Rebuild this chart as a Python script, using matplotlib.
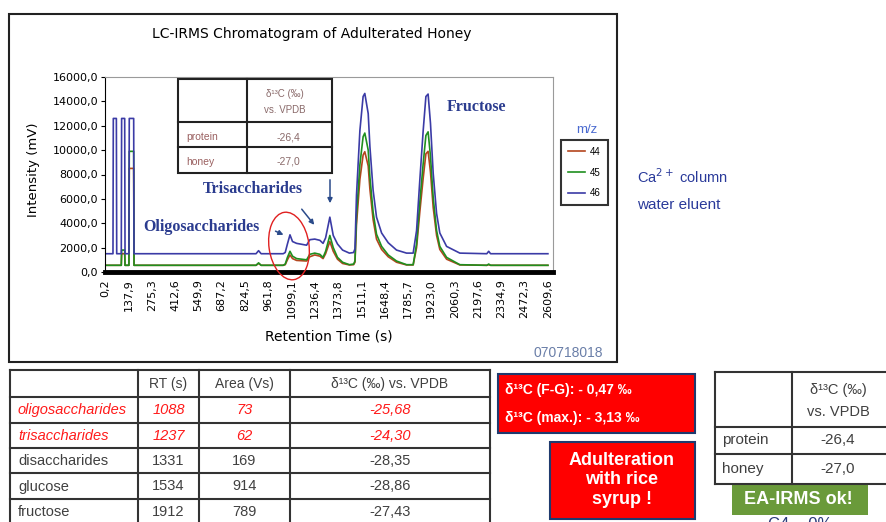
import matplotlib.pyplot as plt
from matplotlib.patches import Rectangle, Ellipse

plt.rcParams['font.family'] = ['Liberation Sans', 'DejaVu Sans']

W, H = 887, 522

# retention time (s) and signal (mV) of the three m/z traces
rt = [0, 47, 49, 67, 69, 96, 98, 116, 118, 141, 143, 169, 171,
      890, 905, 920, 1050, 1062, 1075, 1090, 1105, 1129, 1188, 1207, 1236, 1266,
      1285, 1300, 1325, 1345, 1370, 1400, 1440, 1465, 1473, 1482,
      1502, 1521, 1531, 1551, 1561, 1580, 1600, 1630, 1669, 1718,
      1777, 1816, 1836, 1855, 1875, 1891, 1904, 1918, 1934, 1954,
      1973, 2013, 2091, 2250, 2261, 2272, 2610]
mz44 = [550, 550, 550, 550, 550, 550, 1500, 1500, 550, 550, 8500, 8500, 550,
        550, 700, 550, 550, 600, 1000, 1400, 1100, 950, 900, 1250, 1400, 1300,
        1100, 1500, 2500, 1700, 1050, 700, 580, 600, 800, 3900,
        7600, 9600, 9870, 8700, 6800, 4300, 2700, 1850, 1250, 800,
        580, 580, 2000, 4900, 7700, 9700, 9900, 8200, 5300, 3000,
        1850, 1050, 580, 550, 600, 550, 550]
mz45 = [550, 550, 550, 550, 550, 550, 1800, 1800, 550, 550, 9900, 9900, 550,
        550, 750, 550, 550, 650, 1200, 1700, 1300, 1100, 1000, 1450, 1550, 1450,
        1200, 1700, 3000, 2000, 1200, 800, 600, 650, 900, 4600,
        8800, 11100, 11400, 10000, 7800, 4900, 3100, 2100, 1400, 900,
        600, 600, 2300, 5700, 8900, 11200, 11500, 9500, 6100, 3400,
        2100, 1200, 600, 550, 650, 550, 550]
mz46 = [1500, 1500, 12600, 12600, 1500, 1500, 12600, 12600, 1500, 1500, 12600, 12600, 1500,
        1500, 1750, 1500, 1500, 1600, 2300, 3050, 2500, 2350, 2200, 2650, 2700, 2600,
        2350, 2800, 4500, 3000, 2300, 1800, 1550, 1600, 1900, 6300,
        11600, 14400, 14650, 13000, 10300, 6700, 4500, 3200, 2400, 1800,
        1550, 1550, 3400, 7500, 11600, 14400, 14600, 12200, 8100, 4800,
        3200, 2100, 1550, 1500, 1700, 1500, 1500]

xtick_vals = [0.2, 137.9, 275.3, 412.6, 549.9, 687.2, 824.5, 961.8, 1099.1, 1236.4,
              1373.8, 1511.1, 1648.4, 1785.7, 1923.0, 2060.3, 2197.6, 2334.9, 2472.3, 2609.6]
ytick_vals = [0, 2000, 4000, 6000, 8000, 10000, 12000, 14000, 16000]

# results table
comp = ['oligosaccharides', 'trisaccharides', 'disaccharides', 'glucose', 'fructose']
comp_rt = ['1088', '1237', '1331', '1534', '1912']
comp_area = ['73', '62', '169', '914', '789']
comp_d13c = ['-25,68', '-24,30', '-28,35', '-28,86', '-27,43']

# EA-IRMS values
ea_rows = ['protein', 'honey']
ea_vals = ['-26,4', '-27,0']


def fx(px):
    return px / W


def fy(py):
    return 1 - py / H


fig = plt.figure(figsize=(W / 100, H / 100), dpi=100)

# %% chromatogram
ax = fig.add_axes([fx(105), fy(272), 448 / W, 195 / H])
ax.plot(rt, mz44, color='#b4461e', lw=1.2, label='44')
ax.plot(rt, mz45, color='#1f8f1f', lw=1.2, label='45')
ax.plot(rt, mz46, color='#3b3ba6', lw=1.2, label='46')
ax.set_xlim(0, 2640)
ax.set_ylim(0, 16000)
ax.set_xticks(xtick_vals, [f'{v:.1f}'.replace('.', ',') for v in xtick_vals],
              rotation=90, fontsize=8, family='DejaVu Sans')
ax.set_yticks(ytick_vals, [f'{v:.1f}'.replace('.', ',') for v in ytick_vals],
              fontsize=8, family='DejaVu Sans')
ax.tick_params(axis='x', length=0, pad=5)
ax.tick_params(axis='y', length=3, width=0.8, pad=2)
for s in ['top', 'right']:
    ax.spines[s].set_color('#9a9a9a')
    ax.spines[s].set_linewidth(0.8)
ax.spines['left'].set_linewidth(0.8)
ax.spines['bottom'].set_linewidth(3.5)

leg = fig.legend(loc='upper left', bbox_to_anchor=(fx(561), fy(140)), fontsize=7,
                 frameon=True, fancybox=False, edgecolor='black', handlelength=1.8,
                 handletextpad=0.5, labelspacing=1.1, borderpad=0.7, borderaxespad=0)
leg.get_frame().set_linewidth(1.5)

# %% overlay in pixel coordinates for boxes, tables and notes
ov = fig.add_axes([0, 0, 1, 1])
ov.set_xlim(0, W)
ov.set_ylim(H, 0)
ov.axis('off')

ov.add_patch(Rectangle((9, 14), 608, 348, fill=False, ec='#222222', lw=1.5))
ov.text(312, 34, 'LC-IRMS Chromatogram of Adulterated Honey', ha='center', va='center',
        fontsize=10, family='DejaVu Sans')
ov.text(34, 170, 'Intensity (mV)', rotation=90, ha='center', va='center',
        fontsize=9.5, family='DejaVu Sans')
ov.text(329, 337, 'Retention Time (s)', ha='center', va='center',
        fontsize=10, family='DejaVu Sans')
ov.text(603, 353, '070718018', ha='right', va='center', fontsize=10, color='#6a7ea8')
ov.text(587, 130, 'm/z', ha='center', va='center', fontsize=9.5, color='#4a6ad0')
ov.text(637, 177, 'Ca$^{2+}$ column', ha='left', va='center', fontsize=10.5, color='#2a3a9a')
ov.text(637, 205, 'water eluent', ha='left', va='center', fontsize=11, color='#2a3a9a')

# inset table inside the plot
ov.add_patch(Rectangle((178, 79), 154, 94, fc='white', ec='#222222', lw=1.5))
ov.plot([247, 247], [79, 173], color='#222222', lw=1.5)
ov.plot([178, 332], [122, 122], color='#222222', lw=1.5)
ov.plot([178, 332], [147, 147], color='#222222', lw=1.5)
ov.text(285, 94, 'δ¹³C (‰)', ha='center', va='center', fontsize=7, color='#8a6a6a')
ov.text(285, 110, 'vs. VPDB', ha='center', va='center', fontsize=7, color='#8a6a6a')
for i, (r, v) in enumerate(zip(ea_rows, ea_vals)):
    yy = 137 + i * 25
    ov.text(186, yy, r, ha='left', va='center', fontsize=7.5, color='#9a6060')
    ov.text(288, yy, v, ha='center', va='center', fontsize=7.5, color='#8a6a6a')

# peak labels
navy = '#2b3c8f'
ov.text(447, 107, 'Fructose', ha='left', va='center', fontsize=11.5, weight='bold',
        family='Liberation Serif', color=navy)
ov.text(203, 189, 'Trisaccharides', ha='left', va='center', fontsize=11.5, weight='bold',
        family='Liberation Serif', color=navy)
ov.text(143, 227, 'Oligosaccharides', ha='left', va='center', fontsize=11.5, weight='bold',
        family='Liberation Serif', color=navy)
arrow = dict(arrowstyle='-|>', color='#2a4a8a', lw=1.1, mutation_scale=7)
ov.annotate('', xy=(286, 236), xytext=(273, 230), arrowprops=arrow)
ov.annotate('', xy=(316, 227), xytext=(300, 207), arrowprops=arrow)
ov.annotate('', xy=(330, 206), xytext=(330, 177), arrowprops=arrow)
ov.add_patch(Ellipse((289, 246), 40, 68, angle=-8, fill=False, ec='#e02020', lw=1.0))

# results table
tc = '#333333'
for yy in [370, 397, 423, 448, 473, 499]:
    ov.plot([10, 490], [yy, yy], color=tc, lw=1.5)
for xx in [10, 138, 199, 290, 490]:
    ov.plot([xx, xx], [370, 530], color=tc, lw=1.5)
hdr_c = [168.5, 244.5, 390]
for xx, t in zip(hdr_c, ['RT (s)', 'Area (Vs)', 'δ¹³C (‰) vs. VPDB']):
    ov.text(xx, 384, t, ha='center', va='center', fontsize=10, color='#404040')
for i in range(len(comp)):
    yy = 410 + i * 25.5
    hot = i < 2
    col = '#ff1a1a' if hot else '#404040'
    st = 'italic' if hot else 'normal'
    ov.text(18, yy, comp[i], ha='left', va='center', fontsize=10.5, color=col, style=st)
    for xx, t in zip(hdr_c, [comp_rt[i], comp_area[i], comp_d13c[i]]):
        ov.text(xx, yy, t, ha='center', va='center', fontsize=10.5, color=col, style=st)

# red result boxes
ov.add_patch(Rectangle((498, 374), 197, 59, fc='#ff0000', ec='#1f3a6e', lw=1.5))
ov.text(505, 390, 'δ¹³C (F-G): - 0,47 ‰', ha='left', va='center', fontsize=10,
        color='white', weight='bold')
ov.text(505, 418, 'δ¹³C (max.): - 3,13 ‰', ha='left', va='center', fontsize=10,
        color='white', weight='bold')
ov.add_patch(Rectangle((550, 442), 145, 77, fc='#ff0000', ec='#1f3a6e', lw=1.5))
ov.text(622, 480, 'Adulteration\nwith rice\nsyrup !', ha='center', va='center',
        fontsize=13, color='white', weight='bold', linespacing=1.2)

# EA-IRMS table
for yy in [372, 427, 454, 484]:
    ov.plot([715, 887], [yy, yy], color=tc, lw=1.5)
for xx in [715, 792]:
    ov.plot([xx, xx], [372, 484], color=tc, lw=1.5)
ov.text(838, 390, 'δ¹³C (‰)', ha='center', va='center', fontsize=10.5, color='#404040')
ov.text(838, 412, 'vs. VPDB', ha='center', va='center', fontsize=10.5, color='#404040')
for i, (r, v) in enumerate(zip(ea_rows, ea_vals)):
    yy = 440 + i * 29
    ov.text(722, yy, r, ha='left', va='center', fontsize=11, color='#404040')
    ov.text(838, yy, v, ha='center', va='center', fontsize=11, color='#404040')
ov.add_patch(Rectangle((732, 484), 136, 31, fc='#6a9a3a', ec='none'))
ov.text(798, 499, 'EA-IRMS ok!', ha='center', va='center', fontsize=13,
        color='white', weight='bold')
ov.text(800, 517, 'C4 ~ 0%', ha='center', va='top', fontsize=12, color='#2a3a7a')

fig.savefig('out.png', dpi=100)
